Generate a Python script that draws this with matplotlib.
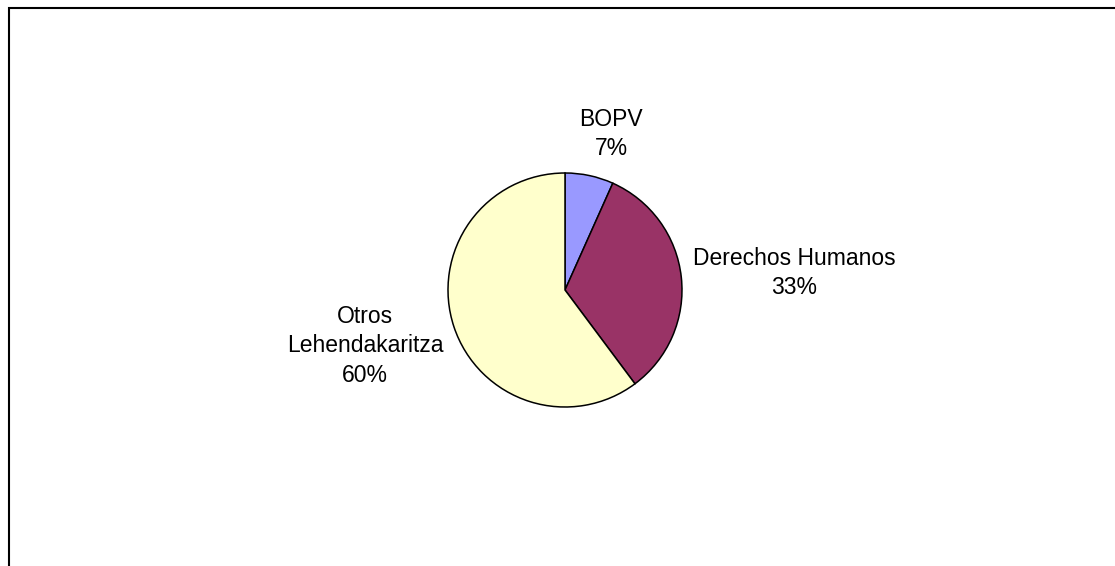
import matplotlib
matplotlib.use("Agg")
import matplotlib.pyplot as plt
from matplotlib.patches import Rectangle

# slice data (clockwise from 12 o'clock)
labels = ["BOPV", "Derechos Humanos", "Otros\nLehendakaritza"]
values = [6.7, 33.1, 60.2]
colors = ["#9999FF", "#993366", "#FFFFCC"]

# label centres (pixels, y up) - placed like Excel's outside labels
label_xy = [(611, 432), (794, 293), (365, 220)]

W, H = 1115, 566
fig = plt.figure(figsize=(W / 100, H / 100), dpi=100)
ax = fig.add_axes([0, 0, 1, 1])

ax.pie(values, colors=colors, startangle=90, counterclock=False,
       center=(565, 276), radius=117, frame=True,
       wedgeprops=dict(edgecolor="black", linewidth=1.1))
ax.set_xlim(0, W); ax.set_ylim(0, H); ax.set_axis_off()

tot = sum(values)
for lab, v, (x, y) in zip(labels, values, label_xy):
    ax.text(x, y, f"{lab}\n{v / tot * 100:.0f}%", ha="center", va="center",
            multialignment="center", fontsize=16.5, family="Liberation Sans",
            linespacing=1.38, color="black")

# chart area frame, runs off the right and bottom edges
ax.add_patch(Rectangle((8.5, -20), W, 558.5 + 20, fill=False,
                       edgecolor="black", linewidth=1.5, clip_on=False))

fig.savefig("out.png", dpi=100, facecolor="white")
